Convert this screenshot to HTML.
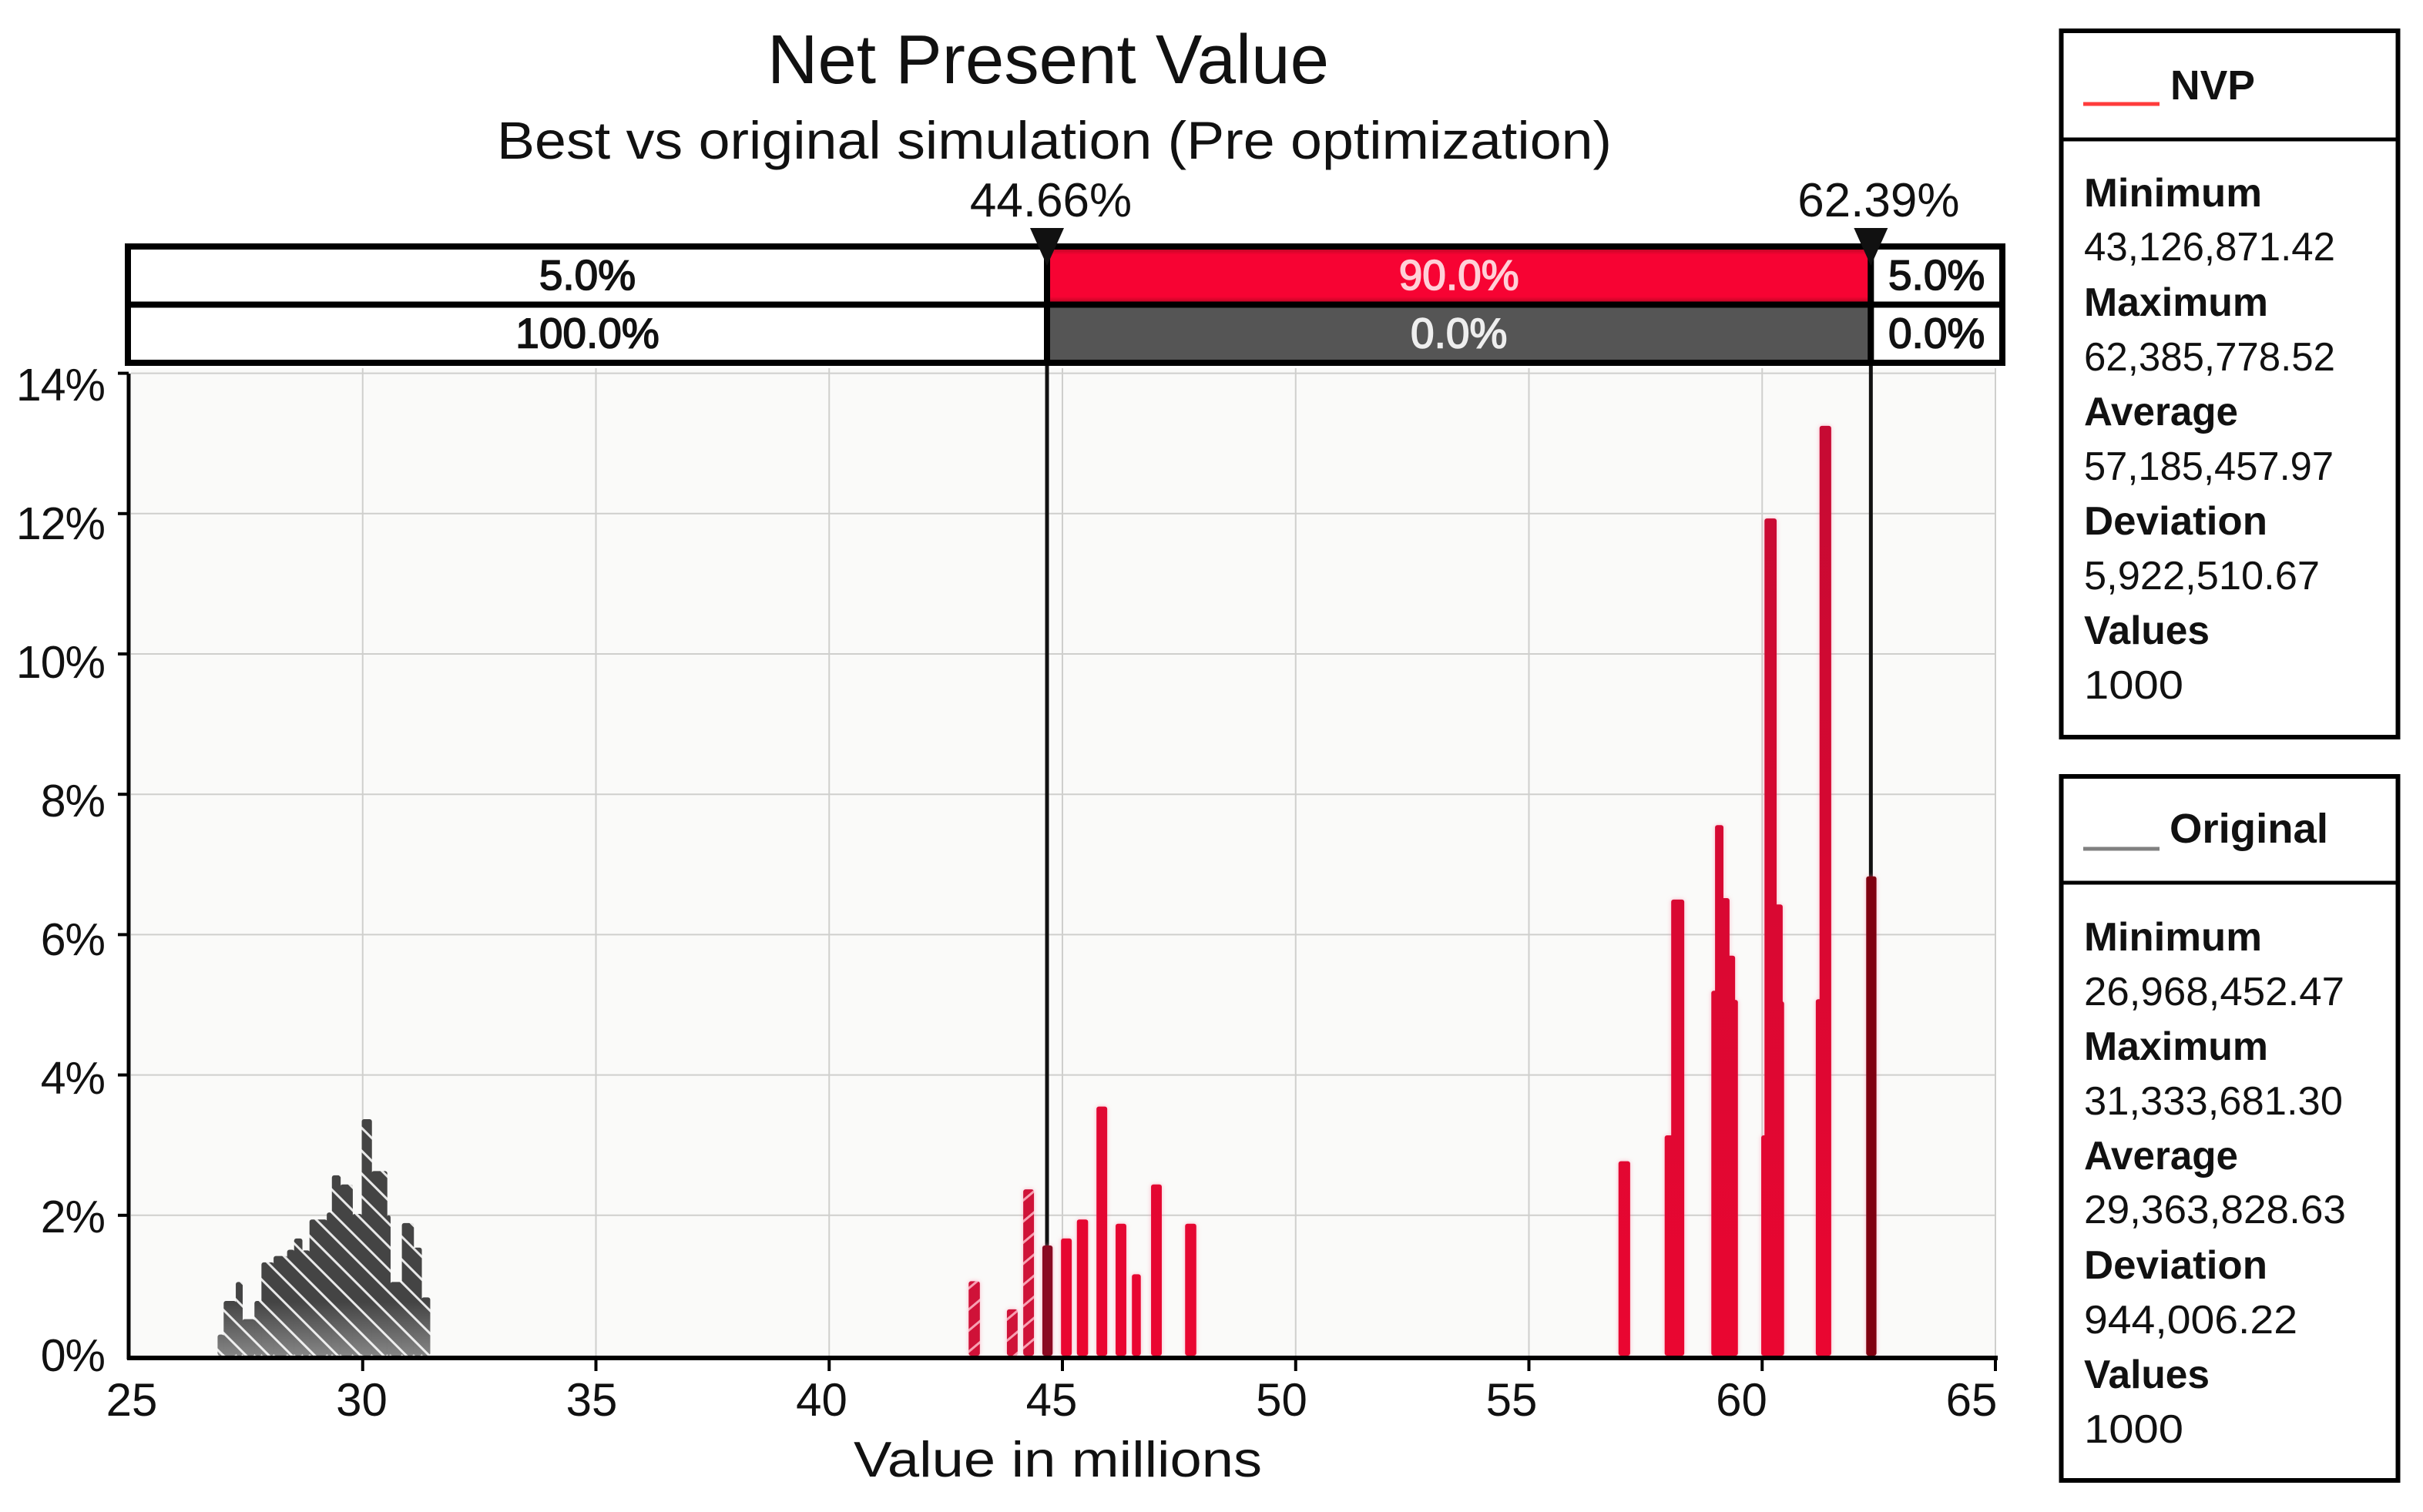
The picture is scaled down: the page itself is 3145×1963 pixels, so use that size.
<!DOCTYPE html>
<html lang="en">
<head>
<meta charset="utf-8">
<title>Net Present Value</title>
<style>
html,body{margin:0;padding:0;background:#fff;width:3145px;height:1963px;overflow:hidden}
svg{display:block;font-family:"Liberation Sans",sans-serif}
text{fill:#111}
.bold{font-weight:700}
</style>
</head>
<body>
<svg id="chart" xmlns="http://www.w3.org/2000/svg" width="3145" height="1963" viewBox="0 0 3145 1963">
  <defs>
    <pattern id="grayHatch" patternUnits="userSpaceOnUse" width="21" height="21" patternTransform="rotate(45 0 0)">
      <rect width="21" height="21" fill="#444"></rect>
      <rect y="9" width="21" height="3" fill="#e8e8e8"></rect>
    </pattern>
    <pattern id="redHatch" patternUnits="userSpaceOnUse" width="21" height="21" patternTransform="rotate(-40 0 0)">
      <rect width="21" height="21" fill="#cf1238"></rect>
      <rect y="9" width="21" height="3" fill="#f7a0b2"></rect>
    </pattern>
    <linearGradient id="redFill" gradientUnits="userSpaceOnUse" x1="0" y1="553" x2="0" y2="1760">
      <stop offset="0" stop-color="#c60a33"></stop>
      <stop offset="1" stop-color="#ea0631"></stop>
    </linearGradient>
    <linearGradient id="grayFade" gradientUnits="userSpaceOnUse" x1="0" y1="1690" x2="0" y2="1760">
      <stop offset="0" stop-color="#fff" stop-opacity="0"></stop>
      <stop offset="1" stop-color="#fff" stop-opacity="0.35"></stop>
    </linearGradient>
    <linearGradient id="bandRed" x1="0" y1="0" x2="0" y2="1">
      <stop offset="0" stop-color="#a9061f"></stop>
      <stop offset="0.14" stop-color="#f70333"></stop>
      <stop offset="0.86" stop-color="#f70333"></stop>
      <stop offset="1" stop-color="#a9061f"></stop>
    </linearGradient>
  </defs>

  <text x="996" y="108" font-size="90" textLength="729" lengthAdjust="spacingAndGlyphs">Net Present Value</text>
  <text x="645" y="206" font-size="69" textLength="1447" lengthAdjust="spacingAndGlyphs">Best vs original simulation (Pre optimization)</text>

  <g id="plotLayer"></g>

  <text x="1108" y="1917" font-size="65" textLength="530" lengthAdjust="spacingAndGlyphs">Value in millions</text>

  <g>
    <rect x="2675.5" y="40" width="437" height="917" fill="#fff" stroke="#000" stroke-width="6"></rect>
    <line x1="2675" x2="3112" y1="181" y2="181" stroke="#000" stroke-width="5"></line>
    <line x1="2704" x2="2803" y1="135" y2="135" stroke="#ff3b3b" stroke-width="5"></line>
    <text class="bold" x="2817" y="129" font-size="54" textLength="110" lengthAdjust="spacingAndGlyphs">NVP</text>
    <text class="bold" x="2705" y="268" font-size="52" textLength="231" lengthAdjust="spacingAndGlyphs">Minimum</text>
    <text x="2705" y="338" font-size="52" textLength="326" lengthAdjust="spacingAndGlyphs">43,126,871.42</text>
    <text class="bold" x="2705" y="410" font-size="52" textLength="239" lengthAdjust="spacingAndGlyphs">Maximum</text>
    <text x="2705" y="481" font-size="52" textLength="326" lengthAdjust="spacingAndGlyphs">62,385,778.52</text>
    <text class="bold" x="2705" y="552" font-size="52" textLength="200" lengthAdjust="spacingAndGlyphs">Average</text>
    <text x="2705" y="623" font-size="52" textLength="324" lengthAdjust="spacingAndGlyphs">57,185,457.97</text>
    <text class="bold" x="2705" y="694" font-size="52" textLength="238" lengthAdjust="spacingAndGlyphs">Deviation</text>
    <text x="2705" y="765" font-size="52" textLength="306" lengthAdjust="spacingAndGlyphs">5,922,510.67</text>
    <text class="bold" x="2705" y="836" font-size="52" textLength="163" lengthAdjust="spacingAndGlyphs">Values</text>
    <text x="2705" y="907" font-size="52" textLength="129" lengthAdjust="spacingAndGlyphs">1000</text>
  </g>

  <g>
    <rect x="2675.5" y="1008" width="437" height="914" fill="#fff" stroke="#000" stroke-width="6"></rect>
    <line x1="2675" x2="3112" y1="1146" y2="1146" stroke="#000" stroke-width="5"></line>
    <line x1="2704" x2="2803" y1="1102" y2="1102" stroke="#808080" stroke-width="5"></line>
    <text class="bold" x="2816" y="1094" font-size="54" textLength="206" lengthAdjust="spacingAndGlyphs">Original</text>
    <text class="bold" x="2705" y="1234" font-size="52" textLength="231" lengthAdjust="spacingAndGlyphs">Minimum</text>
    <text x="2705" y="1305" font-size="52" textLength="338" lengthAdjust="spacingAndGlyphs">26,968,452.47</text>
    <text class="bold" x="2705" y="1376" font-size="52" textLength="239" lengthAdjust="spacingAndGlyphs">Maximum</text>
    <text x="2705" y="1447" font-size="52" textLength="336" lengthAdjust="spacingAndGlyphs">31,333,681.30</text>
    <text class="bold" x="2705" y="1518" font-size="52" textLength="200" lengthAdjust="spacingAndGlyphs">Average</text>
    <text x="2705" y="1588" font-size="52" textLength="340" lengthAdjust="spacingAndGlyphs">29,363,828.63</text>
    <text class="bold" x="2705" y="1660" font-size="52" textLength="238" lengthAdjust="spacingAndGlyphs">Deviation</text>
    <text x="2705" y="1731" font-size="52" textLength="277" lengthAdjust="spacingAndGlyphs">944,006.22</text>
    <text class="bold" x="2705" y="1802" font-size="52" textLength="163" lengthAdjust="spacingAndGlyphs">Values</text>
    <text x="2705" y="1873" font-size="52" textLength="129" lengthAdjust="spacingAndGlyphs">1000</text>
  </g>
</svg>

<script>
const xTickValues = [25, 30, 35, 40, 45, 50, 55, 60, 65];
const yTickValues = [0, 2, 4, 6, 8, 10, 12, 14];
const yTickLabels = ['0%', '2%', '4%', '6%', '8%', '10%', '12%', '14%'];
const markerValues = [44.67, 62.33];
const markerLabels = ['44.66%', '62.39%'];
const bandTopLabels = ['5.0%', '90.0%', '5.0%'];
const bandBottomLabels = ['100.0%', '0.0%', '0.0%'];

const originalBinEdges = [26.89, 27.02, 27.28, 27.42, 27.68, 27.83, 28.09, 28.38, 28.53, 28.70, 28.86, 29.23, 29.34, 29.52, 29.78, 29.98, 30.19, 30.52, 30.59, 30.84, 31.09, 31.26, 31.44];
const originalPercent = [0.30, 0.78, 1.05, 0.52, 0.78, 1.33, 1.42, 1.51, 1.67, 1.50, 1.94, 2.04, 2.57, 2.44, 2.02, 3.37, 2.63, 2.00, 1.05, 1.89, 1.54, 0.83];

const nvpBinStart = [42.99, 43.81, 44.16, 44.57, 44.97, 45.31, 45.73, 46.14, 46.49, 46.90, 47.63, 56.92, 57.91, 58.05, 58.91, 58.99, 59.04, 59.20, 59.22, 59.98, 60.05, 60.15, 60.22, 61.15, 61.23, 62.23];
const nvpBinEnd = [43.23, 44.04, 44.39, 44.79, 45.20, 45.55, 45.96, 46.37, 46.68, 47.13, 47.87, 57.17, 58.16, 58.33, 59.19, 59.17, 59.30, 59.42, 59.48, 60.22, 60.31, 60.44, 60.47, 61.37, 61.48, 62.45];
const nvpPercent = [1.06, 0.66, 2.37, 1.57, 1.67, 1.94, 3.55, 1.88, 1.16, 2.44, 1.88, 2.77, 3.14, 6.50, 5.20, 7.56, 6.52, 5.70, 5.07, 3.14, 11.93, 6.43, 5.05, 5.08, 13.25, 6.83];

const SVGNS = 'http://www.w3.org/2000/svg';
const layer = document.getElementById('plotLayer');

function x(v) { return 168 + (v - 25) * 60.55; }
function y(p) { return 1760 - p * 91.1; }
function xLabelPos(v) { return 171 + (v - 25) * 59.7; }
function yLabelPos(p) { return 1780 - p * 90; }

function make(tag, attrs, parent, content) {
  const node = document.createElementNS(SVGNS, tag);
  for (const k in attrs) node.setAttribute(k, attrs[k]);
  if (content !== undefined) node.textContent = content;
  (parent || layer).appendChild(node);
  return node;
}

const plotBg = make('rect', { x: 170, y: 478, width: 2420, height: 1282, fill: '#fafaf9' });



yTickValues.forEach(function (p) {
  if (p === 0) return;
  const g = make('line', { x1: 170, x2: 2590, y1: y(p), y2: y(p), stroke: '#cfcfcd', 'stroke-width': 2 });
  
  
});
xTickValues.forEach(function (v) {
  if (v === 25) return;
  const g = make('line', { x1: x(v), x2: x(v), y1: 478, y2: 1760, stroke: '#cfcfcd', 'stroke-width': 2 });
  
  
});

markerValues.forEach(function (v) {
  const l = make('line', { x1: x(v), x2: x(v), y1: 320, y2: 1760, stroke: '#111', 'stroke-width': 5 });
  
  
});

const originalGroup = make('g', {});


originalPercent.forEach(function (p, i) {
  const x0 = x(originalBinEdges[i]);
  const x1 = x(originalBinEdges[i + 1]);
  const bar = make('rect', { x: x0, y: y(p), width: x1 - x0 + 0.5, height: y(0) - y(p), rx: 3, fill: 'url(#grayHatch)' }, originalGroup);
  
  
  const fade = make('rect', { x: x0, y: y(p), width: x1 - x0 + 0.5, height: y(0) - y(p), fill: 'url(#grayFade)' }, originalGroup);
  
  
});

const nvpGroup = make('g', { style: 'filter:drop-shadow(0 0 3px rgba(255,130,160,.55))' });


nvpPercent.forEach(function (p, i) {
  const s = nvpBinStart[i];
  const e = nvpBinEnd[i];
  let fill = 'url(#redFill)';
  if (e < markerValues[0]) fill = 'url(#redHatch)';
  if (s < markerValues[0] && e > markerValues[0]) fill = '#8a0a22';
  if (s < markerValues[1] && e > markerValues[1]) fill = '#7f0010';
  const bar = make('rect', { x: x(s), y: y(p), width: x(e) - x(s), height: y(0) - y(p), rx: 3, fill: fill }, nvpGroup);
  
  
});

const yAxis = make('line', { x1: 167, x2: 167, y1: 485, y2: 1765, stroke: '#000', 'stroke-width': 5 });


const xAxis = make('line', { x1: 165, x2: 2593, y1: 1763, y2: 1763, stroke: '#000', 'stroke-width': 6 });



yTickValues.forEach(function (p, i) {
  if (p !== 0) {
    const t = make('line', { x1: 153, x2: 167, y1: y(p), y2: y(p), stroke: '#000', 'stroke-width': 4 });
    
    
  }
  const lab = make('text', { x: 136, y: yLabelPos(p), 'font-size': 59, 'text-anchor': 'end', 'letter-spacing': -1 }, layer, yTickLabels[i]);
  
  
});

xTickValues.forEach(function (v) {
  if (v !== 25) {
    const t = make('line', { x1: x(v), x2: x(v), y1: 1763, y2: 1780, stroke: '#000', 'stroke-width': 4 });
    
    
  }
  const lab = make('text', { x: xLabelPos(v), y: 1838, 'font-size': 60, 'text-anchor': 'middle' }, layer, String(v));
  
  
});

const bandEdges = [166, x(markerValues[0]), x(markerValues[1]), 2599];
const bandRowTop = [320, 395.5];
const bandRowHeight = 75.5;
const bandFills = [['#fff', 'url(#bandRed)', '#fff'], ['#fff', '#555', '#fff']];
const bandTextFills = [['#111', '#ffd0d8', '#111'], ['#111', '#eee', '#111']];
[bandTopLabels, bandBottomLabels].forEach(function (labels, row) {
  labels.forEach(function (txt, i) {
    const cell = make('rect', { x: bandEdges[i], y: bandRowTop[row], width: bandEdges[i + 1] - bandEdges[i], height: bandRowHeight, fill: bandFills[row][i], stroke: '#000', 'stroke-width': 8 });
    
    
    const t = make('text', { x: (bandEdges[i] + bandEdges[i + 1]) / 2, y: bandRowTop[row] + 56, 'font-size': 55, 'text-anchor': 'middle', style: 'fill:' + bandTextFills[row][i] + ';stroke:' + bandTextFills[row][i] + ';stroke-width:1.6' }, layer, txt);
    
    
  });
});

markerValues.forEach(function (v, i) {
  const tri = make('polygon', { points: (x(v) - 22) + ',296 ' + (x(v) + 22) + ',296 ' + x(v) + ',345', fill: '#111' });
  
  
  const lab = make('text', { x: x(v) + 5 + 5 * i, y: 281, 'font-size': 62, 'text-anchor': 'middle' }, layer, markerLabels[i]);
  
  
});
</script>
</body>
</html>
